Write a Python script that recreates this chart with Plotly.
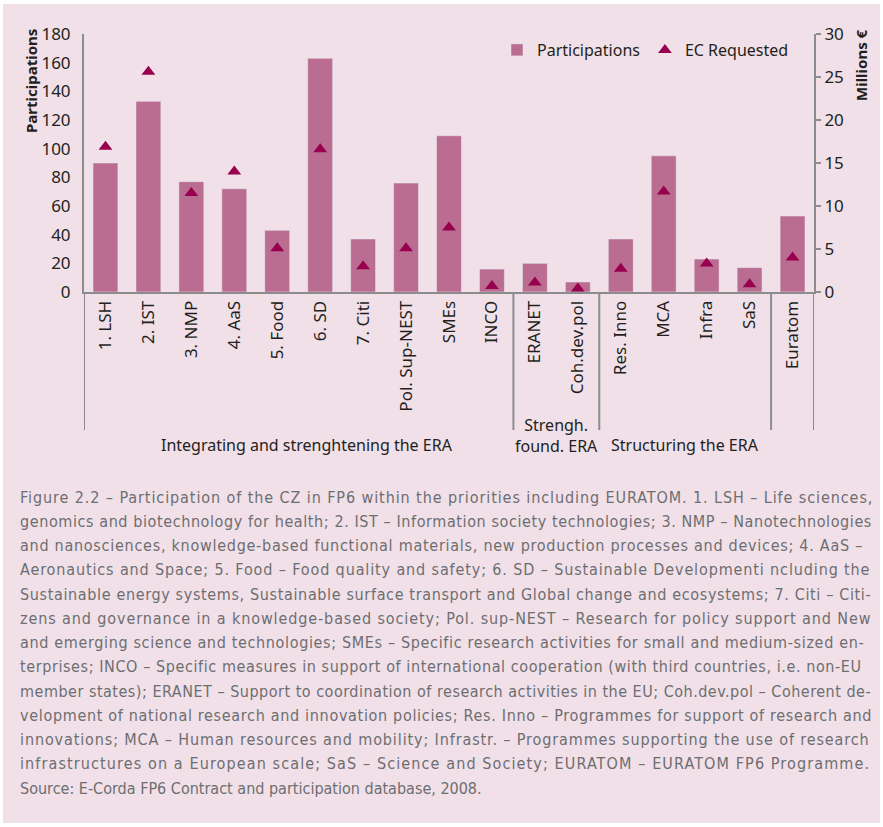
import plotly.graph_objects as go

# data
categories = ['1. LSH', '2. IST', '3. NMP', '4. AaS', '5. Food', '6. SD', '7. Citi',
              'Pol. Sup-NEST', 'SMEs', 'INCO', 'ERANET', 'Coh.dev.pol',
              'Res. Inno', 'MCA', 'Infra', 'SaS', 'Euratom']
participations = [90, 133, 77, 72, 43, 163, 37, 76, 109, 16, 20, 7, 37, 95, 23, 17, 53]
ec_requested = [16.9, 25.6, 11.5, 14.0, 5.1, 16.6, 3.0, 5.1, 7.5, 0.7, 1.1, 0.4, 2.7, 11.7, 3.3, 0.9, 4.0]

groups = ['Integrating and strenghtening the ERA', 'Strengh.<br>found. ERA', 'Structuring the ERA']

caption_lines = [
    "Figure 2.2 – Participation of the CZ in FP6 within the priorities including EURATOM. 1. LSH – Life sciences,",
    "genomics and biotechnology for health; 2. IST – Information society technologies; 3. NMP – Nanotechnologies",
    "and nanosciences, knowledge-based functional materials, new production processes and devices; 4. AaS –",
    "Aeronautics and Space; 5. Food – Food quality and safety; 6. SD – Sustainable Developmenti ncluding the",
    "Sustainable energy systems, Sustainable surface transport and Global change and ecosystems; 7. Citi – Citi-",
    "zens and governance in a knowledge-based society; Pol. sup-NEST – Research for policy support and New",
    "and emerging science and technologies; SMEs – Specific research activities for small and medium-sized en-",
    "terprises; INCO – Specific measures in support of international cooperation (with third countries, i.e. non-EU",
    "member states); ERANET – Support to coordination of research activities in the EU; Coh.dev.pol – Coherent de-",
    "velopment of national research and innovation policies; Res. Inno – Programmes for support of research and",
    "innovations; MCA – Human resources and mobility; Infrastr. – Programmes supporting the use of research",
    "infrastructures on a European scale; SaS – Science and Society; EURATOM – EURATOM FP6 Programme.",
    "Source: E-Corda FP6 Contract and participation database, 2008.",
]
# rough rendered widths (px) of the caption lines, used to stretch them to full width
caption_widths = [752, 787, 776, 760, 782, 760, 782, 785, 796, 778, 760, 743, None]

BG = '#F1E0E8'
BAR = '#BA6C91'
TRI = '#98004F'
GREY = '#8C8C8C'
TXT = '#231F20'
FONT = 'Noto Sans'
CAP_FONT = 'DejaVu Sans Condensed'

W, H = 883, 827
L, R, T, B = 84, 69, 34, 535
pw, ph = W - L - R, H - T - B

def px_x(x):
    return (x - L) / pw

def px_y(y):
    return (H - B - y) / ph

fig = go.Figure()
fig.add_trace(go.Bar(x=categories, y=participations, name='Participations',
                     marker_color=BAR, width=0.58))
fig.add_trace(go.Scatter(x=categories, y=ec_requested, name='EC Requested', yaxis='y2',
                         mode='markers',
                         marker=dict(symbol='triangle-up', size=12, color=TRI)))

shapes = [dict(type='rect', xref='paper', yref='paper', x0=px_x(3), x1=px_x(880),
               y0=px_y(823), y1=px_y(4), fillcolor=BG, line_width=0, layer='below')]
# group separators extending below the axis
for xs in [-0.5, 9.5, 11.5, 15.5, 16.5]:
    shapes.append(dict(type='line', xref='x', yref='paper', x0=xs, x1=xs,
                       y0=px_y(430), y1=0, line=dict(color=GREY, width=2)))

annotations = [
    dict(text='<b>Participations</b>', xref='paper', yref='paper', x=px_x(31), y=px_y(81),
         xanchor='center', yanchor='middle', textangle=-90, showarrow=False,
         font=dict(size=15, color=TXT)),
    dict(text='<b>Millions €</b>', xref='paper', yref='paper', x=px_x(861), y=px_y(65),
         xanchor='center', yanchor='middle', textangle=-90, showarrow=False,
         font=dict(size=15, color=TXT)),
    dict(text=groups[0], xref='x', yref='paper', x=4.7, y=px_y(445), yanchor='middle',
         showarrow=False, font=dict(size=16, color=TXT)),
    dict(text=groups[1], xref='x', yref='paper', x=10.5, y=px_y(435), yanchor='middle',
         showarrow=False, font=dict(size=16, color=TXT)),
    dict(text=groups[2], xref='x', yref='paper', x=13.5, y=px_y(445), yanchor='middle',
         showarrow=False, font=dict(size=16, color=TXT)),
]
for i, line in enumerate(caption_lines):
    w = caption_widths[i]
    txt = line
    if w:
        ls = (850 - w) / len(line)
        txt = '<span style="letter-spacing:%.2fpx">%s</span>' % (ls, line)
    annotations.append(dict(text=txt, xref='paper', yref='paper', x=px_x(18),
                            y=px_y(497 + i * 24.25), xanchor='left', yanchor='middle',
                            showarrow=False, font=dict(family=CAP_FONT, size=16, color='#6D6E71')))

fig.update_layout(
    width=W, height=H,
    margin=dict(l=L, r=R, t=T, b=B),
    paper_bgcolor='white', plot_bgcolor=BG,
    font=dict(family=FONT, size=17, color=TXT),
    bargap=0.42,
    showlegend=True,
    legend=dict(orientation='h', x=px_x(794), y=px_y(50), xanchor='right', yanchor='middle',
                bgcolor='rgba(0,0,0,0)', font=dict(size=16, color=TXT),
                itemwidth=30),
    xaxis=dict(type='category', range=[-0.5, 16.5], tickangle=-90, showline=True,
               linecolor=GREY, linewidth=2, ticks='', showgrid=False),
    yaxis=dict(range=[0, 180], dtick=20, showline=True, linecolor=GREY, linewidth=2,
               showgrid=False, zeroline=False, ticks='', ticklabelstandoff=8),
    yaxis2=dict(range=[0, 30], dtick=5, overlaying='y', side='right', showline=True,
                linecolor=GREY, linewidth=2, showgrid=False, zeroline=False,
                ticks='outside', ticklen=5, tickcolor=GREY, tickwidth=2),
    shapes=shapes,
    annotations=annotations,
)

fig.write_html('out.html', config={'displayModeBar': False},
               post_script="document.body.style.margin='0';")
